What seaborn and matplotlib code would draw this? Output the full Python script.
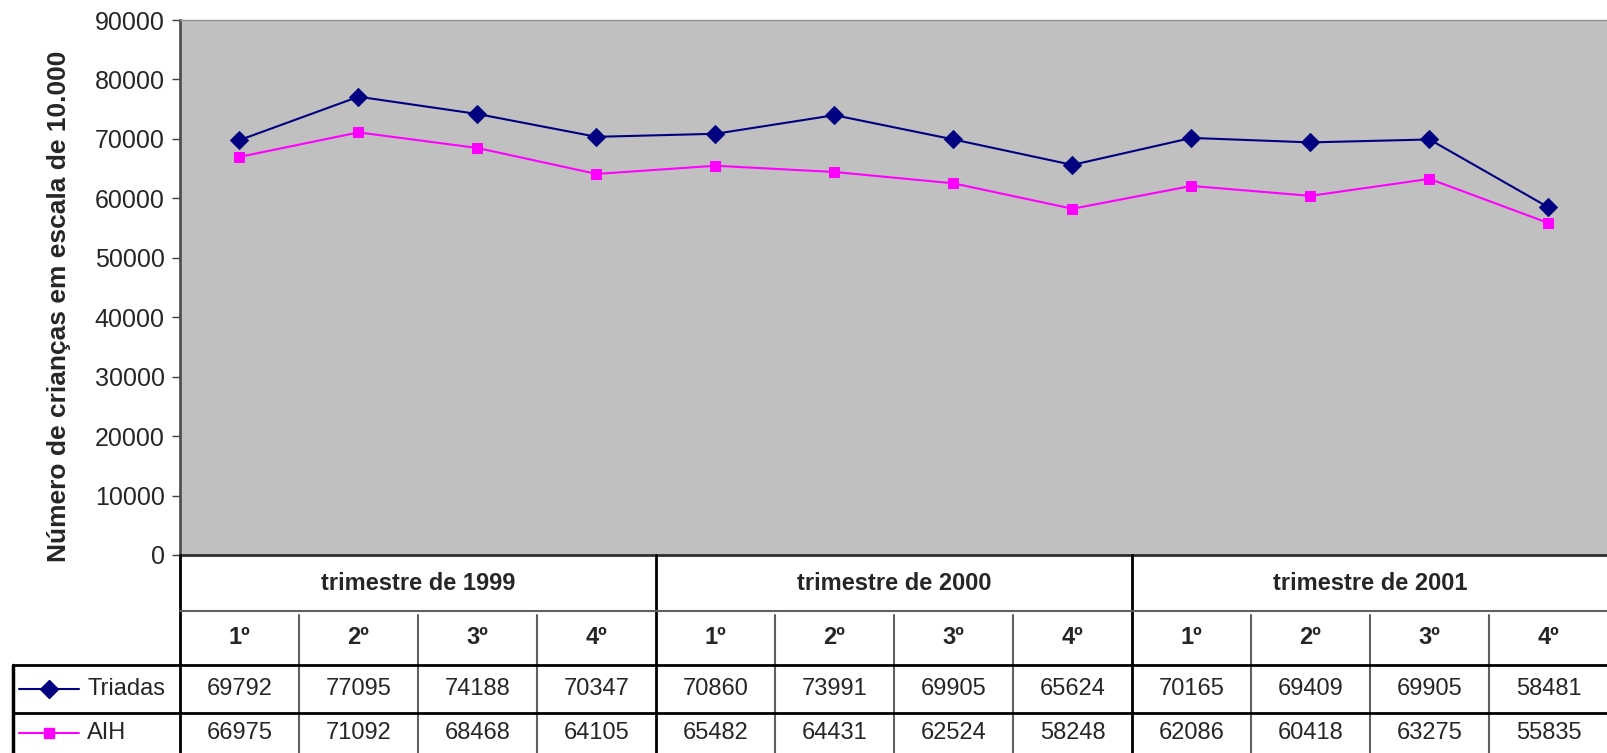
import matplotlib
matplotlib.use("Agg")
import matplotlib.pyplot as plt
import seaborn as sns
import pandas as pd
from matplotlib.lines import Line2D

years = ["trimestre de 1999", "trimestre de 2000", "trimestre de 2001"]
quarters = ["1º", "2º", "3º", "4º"]
triadas = [69792, 77095, 74188, 70347, 70860, 73991, 69905, 65624, 70165, 69409, 69905, 58481]
aih = [66975, 71092, 68468, 64105, 65482, 64431, 62524, 58248, 62086, 60418, 63275, 55835]
yticks = list(range(0, 90001, 10000))

W, H = 1608, 753
ax_l, ax_r, ax_t, ax_b = 180, 1608, 20, 555
leg_l = 13
row_y = [555, 611, 665, 713, 753]

sns.set_style("white")
plt.rcParams["font.family"] = ["Liberation Sans", "DejaVu Sans"]

fig = plt.figure(figsize=(W / 100, H / 100), dpi=100)
ax = fig.add_axes([ax_l / W, (H - ax_b) / H, (ax_r - ax_l) / W, (ax_b - ax_t) / H])
ax.set_facecolor("#c0c0c0")

n = len(triadas)
df = pd.DataFrame({"x": list(range(n)) * 2,
                   "valor": triadas + aih,
                   "serie": ["Triadas"] * n + ["AIH"] * n})
sns.lineplot(data=df[df.serie == "Triadas"], x="x", y="valor", ax=ax, color="#000080",
             marker="D", markersize=9, linewidth=1.5, markeredgecolor="#000080", legend=False)
sns.lineplot(data=df[df.serie == "AIH"], x="x", y="valor", ax=ax, color="#ff00ff",
             marker="s", markersize=7, linewidth=1.5, markeredgecolor="#ff00ff", legend=False)

ax.set_xlim(-0.5, n - 0.5)
ax.set_ylim(0, 90000)
ax.set_yticks(yticks)
ax.set_yticklabels([str(v) for v in yticks], fontsize=18)
ax.set_xticks([])
ax.set_xlabel("")
ax.set_ylabel("Número de crianças em escala de 10.000", fontsize=19, fontweight="bold")
ax.yaxis.set_label_coords(-0.076, 0.465)
ax.tick_params(axis="y", direction="out", length=6, width=1, color="#404040", pad=5, left=True)
ax.spines["right"].set_visible(False)
ax.spines["left"].set_color("#505050")
ax.spines["left"].set_linewidth(2)
ax.spines["bottom"].set_color("#303030")
ax.spines["bottom"].set_linewidth(2)
ax.spines["top"].set_color("#909090")
ax.spines["top"].set_linewidth(1)

# data table below the plot
unit = (ax_r - ax_l) / n
tx0 = -0.5 - (ax_l - leg_l) / unit
tax = fig.add_axes([leg_l / W, 0, (W - leg_l) / W, (H - ax_b) / H])
tax.set_xlim(tx0, n - 0.5)
tax.set_ylim(H, ax_b)
tax.axis("off")

k = dict(clip_on=False)
# year header row
for i, yr in enumerate(years):
    xc = i * 4 + 1.5
    tax.text(xc, (row_y[0] + row_y[1]) / 2, yr, ha="center", va="center", fontsize=17, fontweight="bold")
    tax.plot([i * 4 - 0.5] * 2, [row_y[0], H], color="black", lw=2, **k)
tax.plot([-0.5, n - 0.5], [row_y[1], row_y[1]], color="#606060", lw=1.5, **k)
# quarter row
for j in range(n):
    tax.text(j, (row_y[1] + row_y[2]) / 2, quarters[j % 4], ha="center", va="center",
             fontsize=17, fontweight="bold")
    if j % 4 != 0:
        tax.plot([j - 0.5] * 2, [row_y[1] + 4, H], color="#606060", lw=1.5, **k)
tax.plot([tx0, n - 0.5], [row_y[2], row_y[2]], color="black", lw=2, **k)
tax.plot([tx0, n - 0.5], [row_y[3], row_y[3]], color="black", lw=2, **k)
tax.plot([tx0, tx0], [row_y[2], H], color="black", lw=2.5, **k)
# series rows
rows = [("Triadas", triadas, "#000080", "D", 9), ("AIH", aih, "#ff00ff", "s", 7)]
for r, (name, vals, col, mk, ms) in enumerate(rows):
    yc = (row_y[2 + r] + row_y[3 + r]) / 2
    for j, v in enumerate(vals):
        tax.text(j, yc, str(v), ha="center", va="center", fontsize=17)
    lx = tx0 + 6 / unit
    tax.add_line(Line2D([lx, lx + 60 / unit], [yc, yc], color=col, lw=1.5, **k))
    tax.plot([lx + 30 / unit], [yc], marker=mk, color=col, markersize=ms, **k)
    tax.text(lx + 68 / unit, yc, name, ha="left", va="center", fontsize=17)

fig.savefig("out.png", dpi=100)
